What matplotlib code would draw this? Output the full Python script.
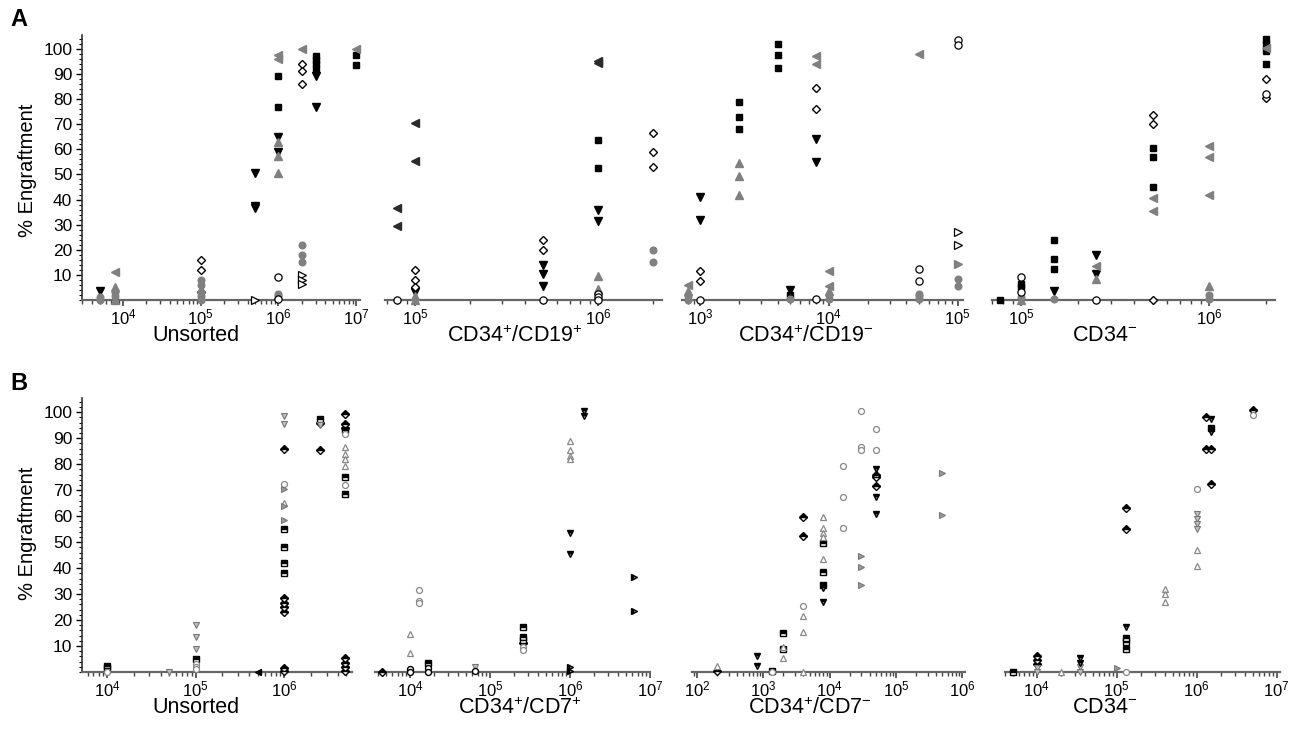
import matplotlib
matplotlib.use("Agg")
import matplotlib.pyplot as plt
from matplotlib.ticker import LogLocator, MultipleLocator, NullFormatter, FixedLocator

plt.rcParams['font.family'] = ['Liberation Sans', 'DejaVu Sans']
plt.rcParams['mathtext.default'] = 'regular'

# (cells injected, % engraftment, sample)
a_unsorted = [
    (5e3, 3.5, 'S2'), (5e3, 1, 'S6'), (5e3, 0, 'S6'),
    (8e3, 11, 'S3'), (8e3, 5, 'S5'), (8e3, 3, 'S6'), (8e3, 1.5, 'S6'), (8e3, 0, 'S5'),
    (1e5, 16, 'S4'), (1e5, 12, 'S4'), (1e5, 8, 'S6'), (1e5, 6, 'S6'), (1e5, 4.5, 'S5'),
    (1e5, 3, 'S4'), (1e5, 1.5, 'S6'), (1e5, 0, 'S6'),
    (5e5, 50.5, 'S2'), (5e5, 37.5, 'S2'), (5e5, 36.5, 'S2'), (5e5, 0, 'S8'),
    (1e6, 97.5, 'S3'), (1e6, 96, 'S3'), (1e6, 89, 'S1'), (1e6, 77, 'S1'), (1e6, 65, 'S2'),
    (1e6, 63, 'S5'), (1e6, 59, 'S2'), (1e6, 57.5, 'S5'), (1e6, 50.5, 'S5'), (1e6, 9, 'S7'),
    (1e6, 2.5, 'S6'), (1e6, 1.5, 'S6'), (1e6, 0.5, 'S7'),
    (2e6, 100, 'S3'), (2e6, 94, 'S4'), (2e6, 91, 'S4'), (2e6, 86, 'S4'), (2e6, 22, 'S6'),
    (2e6, 18, 'S6'), (2e6, 15, 'S6'), (2e6, 10, 'S8'), (2e6, 8, 'S8'), (2e6, 6.5, 'S8'),
    (3e6, 97, 'S1'), (3e6, 95.5, 'S1'), (3e6, 94, 'S1'), (3e6, 92, 'S1'), (3e6, 89, 'S2'), (3e6, 77, 'S2'),
    (1e7, 100, 'S3'), (1e7, 97.5, 'S1'), (1e7, 93.5, 'S1'),
]
a_cd19p = [
    (8e4, 36.5, 'S10'), (8e4, 29.5, 'S10'), (8e4, 0, 'S7'),
    (1e5, 70.5, 'S10'), (1e5, 55.5, 'S10'), (1e5, 12, 'S4'), (1e5, 8, 'S4'), (1e5, 5, 'S4'),
    (1e5, 3, 'S2'), (1e5, 1.5, 'S5'), (1e5, 0, 'S5'),
    (5e5, 24, 'S4'), (5e5, 20, 'S4'), (5e5, 14, 'S2'), (5e5, 10.5, 'S2'), (5e5, 5.5, 'S2'), (5e5, 0, 'S7'),
    (1e6, 95, 'S10'), (1e6, 94.5, 'S10'), (1e6, 63.5, 'S1'), (1e6, 52.5, 'S1'), (1e6, 36, 'S2'),
    (1e6, 31.5, 'S2'), (1e6, 9.5, 'S5'), (1e6, 4.5, 'S5'), (1e6, 2.5, 'S7'), (1e6, 1, 'S7'), (1e6, 0, 'S7'),
    (2e6, 66.5, 'S4'), (2e6, 59, 'S4'), (2e6, 53, 'S4'), (2e6, 20, 'S6'), (2e6, 15, 'S6'),
]
a_cd19n = [
    (8e2, 6, 'S3'), (8e2, 3.5, 'S5'), (8e2, 1.5, 'S6'), (8e2, 0, 'S6'),
    (1e3, 41, 'S2'), (1e3, 32, 'S2'), (1e3, 11.5, 'S4'), (1e3, 7.5, 'S4'), (1e3, 0, 'S7'),
    (2e3, 79, 'S1'), (2e3, 73, 'S1'), (2e3, 68, 'S1'), (2e3, 54.5, 'S5'), (2e3, 49.5, 'S5'), (2e3, 42, 'S5'),
    (4e3, 102, 'S1'), (4e3, 97.5, 'S1'), (4e3, 92.5, 'S1'),
    (5e3, 4, 'S2'), (5e3, 2, 'S1'), (5e3, 0.5, 'S6'),
    (8e3, 97, 'S3'), (8e3, 94, 'S3'), (8e3, 84.5, 'S4'), (8e3, 76, 'S4'), (8e3, 64, 'S2'),
    (8e3, 55, 'S2'), (8e3, 0.5, 'S7'),
    (1e4, 11.5, 'S3'), (1e4, 5.5, 'S3'), (1e4, 3.5, 'S5'), (1e4, 2, 'S6'), (1e4, 0.5, 'S6'),
    (5e4, 98, 'S3'), (5e4, 12.5, 'S7'), (5e4, 7.5, 'S7'), (5e4, 2.5, 'S6'), (5e4, 1.5, 'S6'), (5e4, 0.5, 'S6'),
    (1e5, 103.5, 'S7'), (1e5, 101.5, 'S7'), (1e5, 27, 'S8'), (1e5, 22, 'S8'), (1e5, 14.5, 'S9'),
    (1e5, 8.5, 'S6'), (1e5, 5.5, 'S6'),
]
a_cd34n = [
    (7.7e4, 0, 'S1'),
    (1e5, 9, 'S7'), (1e5, 6.5, 'S1'), (1e5, 5, 'S1'), (1e5, 3, 'S7'), (1e5, 1, 'S6'), (1e5, 0, 'S5'),
    (1.5e5, 24, 'S1'), (1.5e5, 16.5, 'S1'), (1.5e5, 12.5, 'S1'), (1.5e5, 3.5, 'S2'), (1.5e5, 0.5, 'S6'),
    (2.5e5, 18, 'S2'), (2.5e5, 13.5, 'S3'), (2.5e5, 10.5, 'S2'), (2.5e5, 8.5, 'S5'), (2.5e5, 0, 'S7'),
    (5e5, 73.5, 'S4'), (5e5, 70, 'S4'), (5e5, 60.5, 'S1'), (5e5, 57, 'S1'), (5e5, 45, 'S1'),
    (5e5, 40.5, 'S3'), (5e5, 35.5, 'S3'), (5e5, 0, 'S4'),
    (1e6, 61.5, 'S3'), (1e6, 57, 'S3'), (1e6, 42, 'S3'), (1e6, 5.5, 'S5'), (1e6, 2, 'S6'), (1e6, 0.5, 'S6'),
    (2e6, 104, 'S1'), (2e6, 102, 'S1'), (2e6, 100.5, 'S3'), (2e6, 99, 'S1'), (2e6, 94, 'S1'),
    (2e6, 88, 'S4'), (2e6, 82, 'S7'), (2e6, 80.5, 'S4'),
]

b_unsorted = [
    (1e4, 2.5, 'T2'), (1e4, 1.5, 'T2'), (1e4, 0, 'T5'),
    (5e4, 0, 'T3'),
    (1e5, 18, 'T3'), (1e5, 13.5, 'T3'), (1e5, 9, 'T3'), (1e5, 5, 'T2'), (1e5, 3, 'T5'), (1e5, 2, 'T5'), (1e5, 1, 'T5'),
    (5e5, 0, 'T8'),
    (1e6, 98.5, 'T3'), (1e6, 95.5, 'T3'), (1e6, 86, 'T1'), (1e6, 72.5, 'T5'), (1e6, 70.5, 'T6'),
    (1e6, 65, 'T4'), (1e6, 64, 'T6'), (1e6, 58.5, 'T6'), (1e6, 55, 'T2'), (1e6, 48, 'T2'), (1e6, 42, 'T2'),
    (1e6, 38, 'T2'), (1e6, 28.5, 'T1'), (1e6, 26.5, 'T1'), (1e6, 25, 'T1'), (1e6, 23, 'T1'),
    (1e6, 1.5, 'T1'), (1e6, 0.5, 'T1'),
    (2.5e6, 97.5, 'T2'), (2.5e6, 96, 'T1'), (2.5e6, 95, 'T3'), (2.5e6, 85.5, 'T1'),
    (4.8e6, 99.5, 'T1'), (4.8e6, 95.5, 'T1'), (4.8e6, 94, 'T1'), (4.8e6, 93, 'T2'), (4.8e6, 91.5, 'T5'),
    (4.8e6, 86.5, 'T4'), (4.8e6, 84, 'T4'), (4.8e6, 82, 'T4'), (4.8e6, 79.5, 'T4'), (4.8e6, 75, 'T2'),
    (4.8e6, 72, 'T5'), (4.8e6, 68.5, 'T2'), (4.8e6, 5.5, 'T1'), (4.8e6, 3.5, 'T1'), (4.8e6, 2, 'T1'), (4.8e6, 0.5, 'T1'),
]
b_cd7p = [
    (4.5e3, 0, 'T1'),
    (1e4, 14.5, 'T4'), (1e4, 7.5, 'T4'), (1e4, 1, 'T10'), (1e4, 0, 'T10'),
    (1.3e4, 31.5, 'T5'), (1.3e4, 27.5, 'T5'), (1.3e4, 26.5, 'T5'),
    (1.7e4, 3.5, 'T2'), (1.7e4, 1.5, 'T10'), (1.7e4, 0, 'T10'),
    (6.5e4, 2, 'T3'), (6.5e4, 0.5, 'T10'),
    (2.6e5, 17.5, 'T2'), (2.6e5, 13.5, 'T2'), (2.6e5, 12.5, 'T2'), (2.6e5, 11, 'T1'), (2.6e5, 9.5, 'T5'), (2.6e5, 8.5, 'T5'),
    (1e6, 89, 'T4'), (1e6, 85.5, 'T4'), (1e6, 83, 'T4'), (1e6, 82, 'T4'), (1e6, 53.5, 'T7'), (1e6, 45.5, 'T7'),
    (1e6, 2, 'T9'), (1e6, 0.5, 'T9'),
    (1.5e6, 100.5, 'T7'), (1.5e6, 98.5, 'T7'),
    (6.3e6, 36.5, 'T9'), (6.3e6, 23.5, 'T9'),
]
b_cd7n = [
    (2e2, 2.5, 'T4'), (2e2, 0.5, 'T1'),
    (8e2, 6, 'T7'), (8e2, 2.5, 'T7'),
    (1.35e3, 0.5, 'T2'), (1.35e3, 0, 'T5'),
    (2e3, 15, 'T2'), (2e3, 9.5, 'T4'), (2e3, 9, 'T2'), (2e3, 5.5, 'T4'),
    (4e3, 59.5, 'T1'), (4e3, 52.5, 'T1'), (4e3, 25.5, 'T5'), (4e3, 21.5, 'T4'), (4e3, 15.5, 'T4'), (4e3, 0, 'T4'),
    (8e3, 59.5, 'T4'), (8e3, 55.5, 'T4'), (8e3, 53.5, 'T4'), (8e3, 52, 'T4'), (8e3, 49.5, 'T2'),
    (8e3, 43.5, 'T4'), (8e3, 38.5, 'T2'), (8e3, 33.5, 'T2'), (8e3, 32.5, 'T7'), (8e3, 27, 'T7'),
    (1.6e4, 79.5, 'T5'), (1.6e4, 67.5, 'T5'), (1.6e4, 55.5, 'T5'),
    (3e4, 100.5, 'T5'), (3e4, 86.5, 'T5'), (3e4, 85.5, 'T5'), (3e4, 44.5, 'T6'), (3e4, 40.5, 'T6'), (3e4, 33.5, 'T6'),
    (5e4, 93.5, 'T5'), (5e4, 85.5, 'T5'), (5e4, 78, 'T7'), (5e4, 76, 'T1'), (5e4, 75, 'T1'),
    (5e4, 71.5, 'T1'), (5e4, 67.5, 'T7'), (5e4, 61, 'T7'),
    (5e5, 76.5, 'T6'), (5e5, 60.5, 'T6'),
]
b_cd34n = [
    (5e3, 0, 'T2'),
    (1e4, 6, 'T1'), (1e4, 4.5, 'T1'), (1e4, 3, 'T1'), (1e4, 1.5, 'T3'), (1e4, 0, 'T3'),
    (2e4, 0, 'T4'),
    (3.5e4, 5.5, 'T7'), (3.5e4, 3.5, 'T7'), (3.5e4, 2, 'T3'), (3.5e4, 0, 'T3'),
    (1e5, 1.5, 'T6'),
    (1.3e5, 63, 'T1'), (1.3e5, 55, 'T1'), (1.3e5, 17.5, 'T7'), (1.3e5, 13, 'T2'), (1.3e5, 11.5, 'T2'),
    (1.3e5, 9, 'T2'), (1.3e5, 0, 'T5'),
    (4e5, 32, 'T4'), (4e5, 30, 'T4'), (4e5, 27, 'T4'),
    (1e6, 70.5, 'T5'), (1e6, 61, 'T3'), (1e6, 59, 'T3'), (1e6, 57, 'T3'), (1e6, 55, 'T3'), (1e6, 47, 'T4'), (1e6, 41, 'T4'),
    (1.3e6, 98, 'T1'), (1.3e6, 86, 'T1'),
    (1.5e6, 97.5, 'T7'), (1.5e6, 94, 'T2'), (1.5e6, 92.5, 'T7'), (1.5e6, 86, 'T1'), (1.5e6, 72.5, 'T1'),
    (5e6, 101, 'T1'), (5e6, 99, 'T5'),
]

labels_a = ['Unsorted', 'CD34$^{+}$/CD19$^{+}$', 'CD34$^{+}$/CD19$^{-}$', 'CD34$^{-}$']
labels_b = ['Unsorted', 'CD34$^{+}$/CD7$^{+}$', 'CD34$^{+}$/CD7$^{-}$', 'CD34$^{-}$']
yticks = [10, 20, 30, 40, 50, 60, 70, 80, 90, 100]

G = '#808080'
STYLE = {
    'S1': dict(marker='s', ms=4.8, mfc='black', mec='black'),
    'S2': dict(marker='v', ms=5.8, mfc='black', mec='black'),
    'S3': dict(marker='<', ms=5.8, mfc=G, mec=G),
    'S4': dict(marker='D', ms=4.5, mfc='white', mec='black', mew=1),
    'S5': dict(marker='^', ms=5.8, mfc=G, mec=G),
    'S6': dict(marker='o', ms=4.8, mfc=G, mec=G),
    'S7': dict(marker='o', ms=5.2, mfc='white', mec='black', mew=0.9),
    'S8': dict(marker='>', ms=5.5, mfc='white', mec='black', mew=0.9),
    'S9': dict(marker='>', ms=5.8, mfc=G, mec=G),
    'S10': dict(marker='<', ms=5.8, mfc='#2a2a2a', mec='#2a2a2a'),
    'T1': dict(marker='D', ms=4.2, mfc='black', mec='black', fillstyle='top', markerfacecoloralt='white', mew=1),
    'T2': dict(marker='s', ms=4.2, mfc='black', mec='black', fillstyle='top', markerfacecoloralt='white', mew=1),
    'T3': dict(marker='v', ms=4.8, mfc='#c0c0c0', mec='#777777', mew=0.8),
    'T4': dict(marker='^', ms=4.8, mfc='white', mec='#888888', mew=0.9),
    'T5': dict(marker='o', ms=4.3, mfc='white', mec='#888888', mew=0.9),
    'T6': dict(marker='>', ms=4.8, mfc='#9a9a9a', mec='#777777', mew=0.8),
    'T7': dict(marker='v', ms=4.8, mfc='black', mec='black', fillstyle='top', markerfacecoloralt='#888888', mew=1),
    'T8': dict(marker='<', ms=4.8, mfc='black', mec='black'),
    'T9': dict(marker='>', ms=4.8, mfc='black', mec='black', fillstyle='left', markerfacecoloralt='#888888', mew=1),
    'T10': dict(marker='o', ms=4.3, mfc='white', mec='black', mew=1),
}

W, H = 1291, 741
fig = plt.figure(figsize=(W / 100, H / 100), dpi=100)


def add_panel(px_left, px_right, px_top, px_bottom, xlim, data, label, label_x, first):
    ax = fig.add_axes([px_left / W, 1 - px_bottom / H, (px_right - px_left) / W, (px_bottom - px_top) / H])
    ax.set_xscale('log')
    ax.set_xlim(*xlim)
    ax.set_ylim(0, 105.5)
    for key in STYLE:
        pts = [(x, y) for x, y, s in data if s == key]
        if not pts:
            continue
        xs, ys = zip(*pts)
        ax.plot(xs, ys, linestyle='none', clip_on=False, zorder=3, **STYLE[key])
    for side in ['top', 'right']:
        ax.spines[side].set_visible(False)
    ax.spines['bottom'].set_color('#666666')
    ax.spines['bottom'].set_linewidth(1.6)
    ax.xaxis.set_major_locator(LogLocator(base=10))
    ax.xaxis.set_minor_locator(LogLocator(base=10, subs=range(2, 10), numticks=20))
    ax.xaxis.set_minor_formatter(NullFormatter())
    ax.tick_params(axis='x', which='major', length=4.5, width=1.2, color='#444444', labelsize=12, pad=1)
    ax.tick_params(axis='x', which='minor', length=3, width=1, color='#444444')
    if first:
        ax.spines['left'].set_color('#333333')
        ax.spines['left'].set_linewidth(1.2)
        ax.yaxis.set_major_locator(FixedLocator(yticks))
        ax.yaxis.set_minor_locator(MultipleLocator(2))
        ax.tick_params(axis='y', which='major', length=4, width=1, labelsize=12.5, pad=3)
        ax.tick_params(axis='y', which='minor', length=2, width=0.8)
    else:
        ax.spines['left'].set_visible(False)
        ax.tick_params(axis='y', which='both', left=False, labelleft=False)
    # category label just under the tick labels
    fig.text(label_x / W, 1 - (px_bottom + 25) / H, label, fontsize=15.5, ha='center', va='top')
    return ax


# row A
add_panel(82, 360, 35, 300, (2.97e3, 1.12e7), a_unsorted, labels_a[0], 196, True)
add_panel(385, 662, 35, 300, (6.85e4, 2.24e6), a_cd19p, labels_a[1], 515, False)
add_panel(682, 963, 35, 300, (7.25e2, 1.1e5), a_cd19n, labels_a[2], 806, False)
add_panel(992, 1275, 35, 300, (7.0e4, 2.24e6), a_cd34n, labels_a[3], 1105, False)

# row B
add_panel(82, 352, 398, 672, (5.2e3, 5.8e6), b_unsorted, labels_b[0], 196, True)
add_panel(375, 650, 398, 672, (3.65e3, 1.0e7), b_cd7p, labels_b[1], 520, False)
add_panel(692, 965, 398, 672, (84, 1.1e6), b_cd7n, labels_b[2], 810, False)
add_panel(1005, 1280, 398, 672, (4.0e3, 1.1e7), b_cd34n, labels_b[3], 1105, False)

fig.text(28 / W, 1 - 170 / H, '% Engraftment', rotation=90, ha='center', va='center', fontsize=14.5)
fig.text(28 / W, 1 - 533 / H, '% Engraftment', rotation=90, ha='center', va='center', fontsize=14.5)
fig.text(10 / W, 1 - 20 / H, 'A', fontsize=17, fontweight='bold', ha='left', va='center')
fig.text(10 / W, 1 - 383 / H, 'B', fontsize=17, fontweight='bold', ha='left', va='center')

fig.savefig('out.png', dpi=100)
